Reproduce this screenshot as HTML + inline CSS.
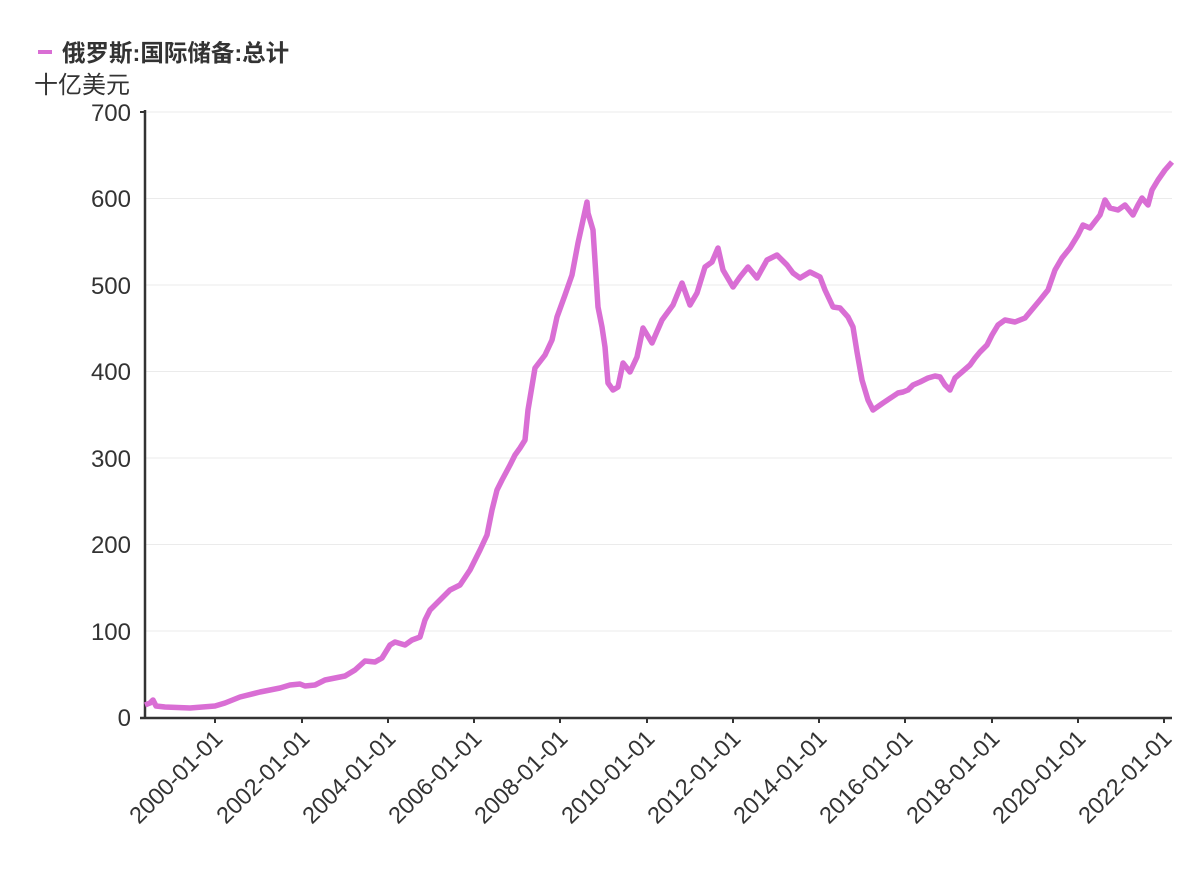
<!DOCTYPE html>
<html><head><meta charset="utf-8"><style>
body{margin:0;background:#fff;}
text{font-family:"Liberation Sans","Noto Sans CJK SC",sans-serif;fill:#333;}
</style></head><body>
<svg width="1200" height="876" xmlns="http://www.w3.org/2000/svg">
<rect x="38" y="50" width="14" height="4" fill="#d96ed4"/>
<text x="62" y="61" font-size="23.5" font-weight="bold">俄罗斯:国际储备:总计</text>
<text x="34" y="93" font-size="24">十亿美元</text>
<g stroke="#ebebeb" stroke-width="1">
<line x1="146" x2="1172" y1="112" y2="112"/><line x1="146" x2="1172" y1="198.5" y2="198.5"/>
<line x1="146" x2="1172" y1="285" y2="285"/><line x1="146" x2="1172" y1="371.5" y2="371.5"/>
<line x1="146" x2="1172" y1="458" y2="458"/><line x1="146" x2="1172" y1="544.5" y2="544.5"/>
<line x1="146" x2="1172" y1="631" y2="631"/>
</g>
<g font-size="24" text-anchor="end">
<text x="131" y="121">700</text><text x="131" y="207">600</text><text x="131" y="294">500</text>
<text x="131" y="380">400</text><text x="131" y="467">300</text><text x="131" y="553">200</text>
<text x="131" y="640">100</text><text x="131" y="726">0</text>
</g>
<line x1="145" y1="110" x2="145" y2="718" stroke="#333" stroke-width="2.5"/>
<line x1="140" y1="112" x2="145" y2="112" stroke="#333" stroke-width="2"/>
<line x1="140" y1="718" x2="1172" y2="718" stroke="#333" stroke-width="2.5"/>
<g stroke="#333" stroke-width="2">
<line x1="215" x2="215" y1="718" y2="723"/><line x1="302" x2="302" y1="718" y2="723"/>
<line x1="388" x2="388" y1="718" y2="723"/><line x1="474" x2="474" y1="718" y2="723"/>
<line x1="560" x2="560" y1="718" y2="723"/><line x1="647" x2="647" y1="718" y2="723"/>
<line x1="733" x2="733" y1="718" y2="723"/><line x1="819" x2="819" y1="718" y2="723"/>
<line x1="905" x2="905" y1="718" y2="723"/><line x1="992" x2="992" y1="718" y2="723"/>
<line x1="1078" x2="1078" y1="718" y2="723"/><line x1="1164" x2="1164" y1="718" y2="723"/>
</g>
<g font-size="23.5" text-anchor="end">
<text transform="translate(224,740) rotate(-45)">2000-01-01</text>
<text transform="translate(311,740) rotate(-45)">2002-01-01</text>
<text transform="translate(397,740) rotate(-45)">2004-01-01</text>
<text transform="translate(483,740) rotate(-45)">2006-01-01</text>
<text transform="translate(569,740) rotate(-45)">2008-01-01</text>
<text transform="translate(656,740) rotate(-45)">2010-01-01</text>
<text transform="translate(742,740) rotate(-45)">2012-01-01</text>
<text transform="translate(828,740) rotate(-45)">2014-01-01</text>
<text transform="translate(914,740) rotate(-45)">2016-01-01</text>
<text transform="translate(1001,740) rotate(-45)">2018-01-01</text>
<text transform="translate(1087,740) rotate(-45)">2020-01-01</text>
<text transform="translate(1173,740) rotate(-45)">2022-01-01</text>
</g>
<polyline fill="none" stroke="#d96ed4" stroke-width="5.5" stroke-linejoin="round" points="
145,705 150,703 153,700 156,706 165,707 190,708 215,706 225,703 240,697 260,692 280,688 290,685 300,684 305,686 315,685 325,680 345,676 355,670 365,661 375,662 382,658 390,645 395,642 405,645 412,640 420,637 425,620 430,610 440,600 450,590 460,585 470,570 480,550 487,535 492,510 497,490 502,480 510,465 515,455 520,448 525,440 528,410 535,368 545,355 552,340 557,317 565,295 572,275 578,243 587,202 588,213 593,230 598,307 602,327 605,347 608,383 613,390 618,387 623,363 630,372 637,357 643,328 652,343 662,320 673,305 682,283 690,305 697,293 705,267 712,262 718,248 723,270 733,287 740,277 748,267 757,278 767,260 777,255 787,265 793,273 800,278 810,272 820,277 825,290 833,307 840,308 848,317 853,327 857,352 862,380 868,400 873,410 883,403 898,393 903,392 908,390 913,385 920,382 928,378 935,376 940,377 945,385 950,390 955,378 962,372 970,365 975,358 980,352 987,345 992,335 998,325 1005,320 1015,322 1025,318 1030,312 1040,300 1048,290 1055,270 1062,258 1070,248 1078,235 1083,225 1090,228 1100,215 1105,200 1110,208 1118,210 1125,205 1133,215 1138,205 1142,198 1148,205 1152,190 1158,180 1165,170 1172,162"/>
</svg>
</body></html>
